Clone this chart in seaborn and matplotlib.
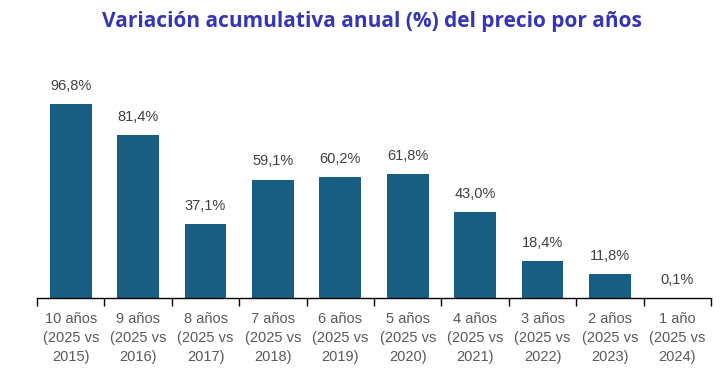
import matplotlib
matplotlib.use("Agg")
import matplotlib.pyplot as plt
import seaborn as sns
import numpy as np
import pandas as pd

# datos
categorias = ["10 años\n(2025 vs\n2015)", "9 años\n(2025 vs\n2016)", "8 años\n(2025 vs\n2017)",
              "7 años\n(2025 vs\n2018)", "6 años\n(2025 vs\n2019)", "5 años\n(2025 vs\n2020)",
              "4 años\n(2025 vs\n2021)", "3 años\n(2025 vs\n2022)", "2 años\n(2025 vs\n2023)",
              "1 año\n(2025 vs\n2024)"]
variacion = [96.8, 81.4, 37.1, 59.1, 60.2, 61.8, 43.0, 18.4, 11.8, 0.1]
etiquetas = ["96,8%", "81,4%", "37,1%", "59,1%", "60,2%", "61,8%", "43,0%", "18,4%", "11,8%", "0,1%"]

df = pd.DataFrame({"cat": categorias, "val": variacion})

sns.set_style("white")
plt.rcParams["font.family"] = ["Liberation Sans", "DejaVu Sans"]

fig = plt.figure(figsize=(7.2, 3.78), dpi=100)
ax = fig.add_axes([0.0514, 0.2116, 0.9361, 0.61])

sns.barplot(data=df, x="cat", y="val", color="#175E82", saturation=1, width=0.62,
            linewidth=0, ax=ax)

for i, (v, t) in enumerate(zip(variacion, etiquetas)):
    ax.annotate(t, (i, v), xytext=(0, 8), textcoords="offset points",
                ha="center", va="bottom", fontsize=10.5, color="#404040")

ax.set_ylim(0, 115)
ax.set_xlim(-0.5, len(categorias) - 0.5)
ax.set_yticks([])
ax.set_xlabel("")
ax.set_ylabel("")
for s in ["top", "right", "left"]:
    ax.spines[s].set_visible(False)
ax.spines["bottom"].set_color("black")
ax.spines["bottom"].set_linewidth(1.0)

# marcas entre categorías
ax.set_xticks(np.arange(-0.5, len(categorias), 1), minor=True)
ax.tick_params(axis="x", which="minor", bottom=True, length=6, width=1, color="black", direction="out")
ax.tick_params(axis="x", which="major", length=0, pad=10, labelsize=10.5, labelcolor="#595959")
for lab in ax.get_xticklabels():
    lab.set_linespacing(1.45)

fig.text(0.516, 0.942, "Variación acumulativa anual (%) del precio por años",
         ha="center", va="center", fontsize=15, fontweight="bold", color="#3535B5",
         family=["Open Sans", "DejaVu Sans"])

fig.savefig("out.png", dpi=100)
